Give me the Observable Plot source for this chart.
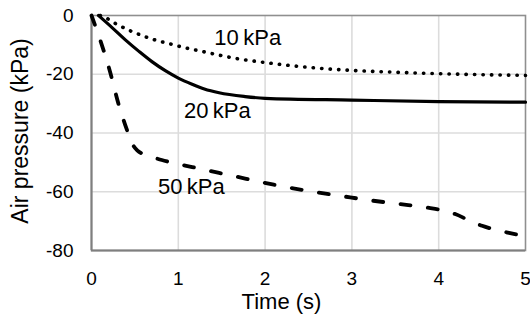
<!DOCTYPE html>
<html><head><meta charset="utf-8">
<script src="https://cdn.jsdelivr.net/npm/d3@7"></script>
<script src="https://cdn.jsdelivr.net/npm/@observablehq/plot@0.6"></script>
<style>body{margin:0;background:#fff;} svg{display:block}</style>
</head><body><div id="chart"></div>
<script>
// Data
const xTicks = [0, 1, 2, 3, 4, 5];
const yTicks = [0, -20, -40, -60, -80];

const t10 = [0.1, 0.16, 0.28, 0.43, 0.58, 0.74, 0.91, 1.08, 1.27, 1.47, 1.66, 1.97, 2.52, 3, 3.48, 4, 5];
const p10 = [0, -0.7, -2.8, -5.0, -6.8, -8.4, -9.7, -11, -12.2, -13.5, -14.6, -15.9, -17.7, -18.7, -19.3, -19.8, -20.4];

const t20 = [0.08, 0.24, 0.39, 0.55, 0.7, 0.85, 1.0, 1.16, 1.3, 1.47, 1.77, 2, 3, 4, 5];
const p20 = [0, -4.2, -8.3, -12.3, -15.8, -18.8, -21.3, -23.4, -25.0, -26.3, -27.6, -28.2, -28.8, -29.3, -29.5];

const t50 = [0, 0.22, 0.31, 0.39, 0.44, 0.48, 0.53, 0.6, 0.7, 0.81, 0.97, 1.16, 1.47, 1.77, 2.1, 2.58, 2.91, 3.23, 3.56, 3.89, 4.04, 4.19, 4.34, 4.5, 4.65, 4.81, 5];
const p50 = [0, -19.8, -30, -37.4, -41.5, -44.2, -46.0, -47.2, -48.2, -49.2, -50.4, -51.6, -53.6, -55.5, -57.6, -60.1, -61.6, -63, -64.2, -65.5, -66.3, -67.6, -69.6, -71.6, -72.9, -74, -75.2];

const labelText = ["10\u2009kPa", "20\u2009kPa", "50\u2009kPa"];
const labelT = [1.8, 1.45, 1.15];
const labelP = [-7.5, -32.6, -58.2];

const xTitle = "Time (s)";
const yTitle = "Air pressure (kPa)";

const rows = (ts, ps) => ts.map((t, i) => ({t, p: ps[i]}));
const labels = labelText.map((s, i) => ({s, t: labelT[i], p: labelP[i]}));

const plot = Plot.plot({
  width: 530, height: 322,
  marginTop: 15, marginBottom: 72, marginLeft: 91, marginRight: 5,
  style: {fontFamily: "'Liberation Sans', Arial, sans-serif", fontSize: "19px", color: "#000", background: "#fff", overflow: "visible"},
  x: {domain: [0, 5], ticks: xTicks, tickSize: 0, tickPadding: 21, label: null, tickFormat: d => `${d}`},
  y: {domain: [-80, 0], ticks: yTicks, tickSize: 0, tickPadding: 18, label: null, tickFormat: d => `${d}`},
  marks: [
    Plot.gridX(xTicks.slice(1, -1), {stroke: "#dcdcdc", strokeOpacity: 1, strokeWidth: 1.6}),
    Plot.gridY(yTicks.slice(1, -1), {stroke: "#dcdcdc", strokeOpacity: 1, strokeWidth: 1.6}),
    Plot.frame({stroke: "#8f8f8f", strokeWidth: 1.6}),
    Plot.ruleX([0], {stroke: "#7f7f7f", strokeWidth: 2}),
    Plot.ruleY([-80], {stroke: "#7f7f7f", strokeWidth: 2}),
    Plot.line(rows(t10, p10), {x: "t", y: "p", curve: "monotone-x", stroke: "#000", strokeWidth: 3.6, strokeDasharray: "0.3 8.2", strokeLinecap: "round"}),
    Plot.line(rows(t20, p20), {x: "t", y: "p", curve: "monotone-x", stroke: "#000", strokeWidth: 3.2}),
    Plot.line(rows(t50, p50), {x: "t", y: "p", curve: "monotone-x", stroke: "#000", strokeWidth: 3.8, strokeDasharray: "10 17.5", strokeLinecap: "round"}),
    Plot.text(labels, {x: "t", y: "p", text: "s", fontSize: 22, fill: "#000"})
  ]
});

const svg = d3.select(plot);
svg.append("text")
  .attr("x", 281.5).attr("y", 308.5)
  .attr("text-anchor", "middle")
  .attr("font-size", 22).attr("fill", "#000")
  .text(xTitle);
svg.append("text")
  .attr("transform", "translate(28,131) rotate(-90)")
  .attr("text-anchor", "middle")
  .attr("font-size", 23).attr("fill", "#000")
  .text(yTitle);

document.getElementById("chart").append(plot);
</script>
</body></html>
